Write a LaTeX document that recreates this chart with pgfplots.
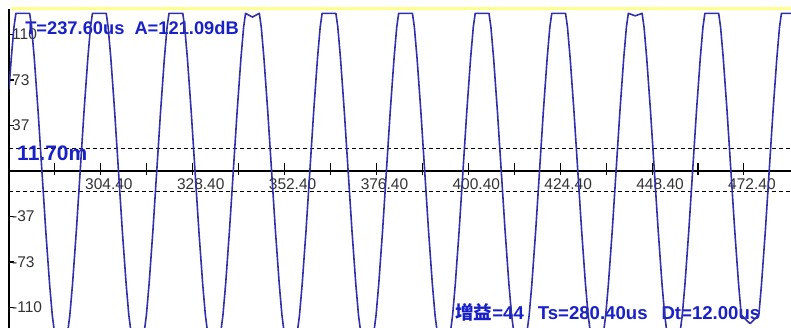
\documentclass[border=0pt]{standalone}
\usepackage{fontspec}
\setmainfont{Liberation Sans}
\newfontfamily\cjkb{Noto Sans CJK SC Bold}
\usepackage{pgfplots}
\pgfplotsset{compat=1.18}
\definecolor{wave}{RGB}{48,48,168}
\definecolor{txtblue}{RGB}{24,32,200}
\definecolor{topyellow}{RGB}{255,255,140}
\begin{document}
\begin{tikzpicture}
\begin{axis}[
  scale only axis, width=782bp, height=319bp,
  xmin=280.4, xmax=484.7, ymin=-126.5, ymax=130.5,
  axis x line=middle, axis y line=left,
  axis line style={-, line width=1.3bp, black},
  clip mode=individual,
  xtick={292.4,304.4,316.4,328.4,340.4,352.4,364.4,376.4,388.4,400.4,412.4,424.4,436.4,448.4,460.4,472.4},
  xticklabels={,304.40,,328.40,,352.40,,376.40,,400.40,,424.40,,448.40,,472.40},
  ytick={-110,-73.33,-36.67,36.67,73.33,110},
  yticklabels={-110,-73,-37,37,73,110},
  xtick align=center, ytick align=inside,
  xtick style={black, line width=1.1bp, /pgfplots/major tick length=12bp, yshift=2bp},
  ytick style={black, line width=1.1bp, /pgfplots/major tick length=5bp},
  tick label style={font=\fontsize{15.5bp}{17bp}\selectfont, text=black!80, inner sep=0pt},
  xticklabel style={anchor=center, yshift=-11bp, xshift=8bp},
  yticklabel style={anchor=west, xshift=3bp},
]
\coordinate (pSW) at (rel axis cs:0,0);
\coordinate (pNE) at (rel axis cs:1,1);
\draw[topyellow, line width=3bp] (rel axis cs:0.003,1) -- (rel axis cs:1,1);
\addplot[black, dash pattern=on 4bp off 3bp, line width=1bp] coordinates {(280.4,18) (484.7,18)};
\addplot[black, dash pattern=on 4bp off 3bp, line width=1bp] coordinates {(280.4,-16.5) (484.7,-16.5)};
\node[anchor=west, inner sep=0pt, text=txtblue, font=\fontsize{18.3bp}{20bp}\selectfont\bfseries] at (284.6,115.2) {T=237.60us\hspace{0.55em}A=121.09dB};
\node[anchor=west, inner sep=0pt, text=txtblue, font=\fontsize{21bp}{23bp}\selectfont\bfseries] at (282.5,14.5) {11.70m};
\node[anchor=west, inner sep=0pt, text=txtblue, font=\fontsize{18.6bp}{20bp}\selectfont\bfseries] at (396.9,-113.6) {{\cjkb 增益}=44\hspace{0.75em}Ts=280.40us\hspace{0.75em}Dt=12.00us};
\addplot[wave, line width=1.6bp, line join=round] coordinates {
(280.4,66) (281,91) (281.7,116) (282.2,127) (285.8,127) (286.3,116) (287,91) (288,48) (289,0) (290,-48) (291,-91) (291.7,-116) (292.2,-128) (295.8,-128) (296.3,-116) (297,-91) (298,-48)
(299,0) (300,48) (301,91) (301.7,116) (302.2,127) (305.8,127) (306.3,116) (307,91) (308,48) (309,0) (310,-48) (311,-91) (311.7,-116) (312.2,-128) (315.8,-128) (316.3,-116) (317,-91) (318,-48)
(319,0) (320,48) (321,91) (321.7,116) (322.2,127) (325.8,127) (326.3,116) (327,91) (328,48) (329,0) (330,-48) (331,-91) (331.7,-116) (332.2,-128) (335.8,-128) (336.3,-116) (337,-91) (338,-48)
(339,0) (340,48) (341,91) (341.7,116) (342.2,127) (344,124) (345.8,127) (346.3,116) (347,91) (348,48) (349,0) (350,-48) (351,-91) (351.7,-116) (352.2,-128) (355.8,-128) (356.3,-116) (357,-91) (358,-48)
(359,0) (360,48) (361,91) (361.7,116) (362.2,127) (365.8,127) (366.3,116) (367,91) (368,48) (369,0) (370,-48) (371,-91) (371.7,-116) (372.2,-128) (375.8,-128) (376.3,-116) (377,-91) (378,-48)
(379,0) (380,48) (381,91) (381.7,116) (382.2,127) (385.8,127) (386.3,116) (387,91) (388,48) (389,0) (390,-48) (391,-91) (391.7,-116) (392.2,-128) (395.8,-128) (396.3,-116) (397,-91) (398,-48)
(399,0) (400,48) (401,91) (401.7,116) (402.2,127) (405.8,127) (406.3,116) (407,91) (408,48) (409,0) (410,-48) (411,-91) (411.7,-116) (412.2,-128) (415.8,-128) (416.3,-116) (417,-91) (418,-48)
(419,0) (420,48) (421,91) (421.7,116) (422.2,127) (425.8,127) (426.3,116) (427,91) (428,48) (429,0) (430,-48) (431,-91) (431.7,-116) (432.2,-128) (435.8,-128) (436.3,-116) (437,-91) (438,-48)
(439,0) (440,48) (441,91) (441.7,116) (442.2,127) (444,125) (445.8,127) (446.3,116) (447,91) (448,48) (449,0) (450,-48) (451,-91) (451.7,-116) (452.2,-128) (455.8,-128) (456.3,-116) (457,-91) (458,-48)
(459,0) (460,48) (461,91) (461.7,116) (462.2,127) (465.8,127) (466.3,116) (467,91) (468,48) (469,0) (470,-48) (471,-91) (471.7,-116) (474,-123) (476.3,-116) (477,-91) (478,-48)
(479,0) (480,48) (481,91) (481.7,116) (482.2,127) (485.8,127)
};
\end{axis}
\pgfresetboundingbox
\path ([xshift=-9bp]pSW) rectangle ([yshift=9bp]pNE);
\end{tikzpicture}
\end{document}
